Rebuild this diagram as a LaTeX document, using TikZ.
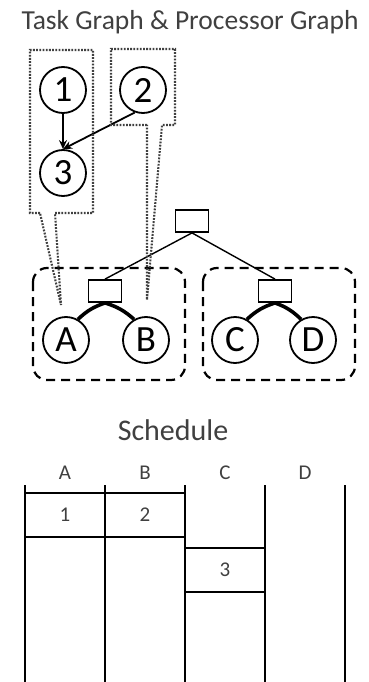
\documentclass[tikz,border=0pt]{standalone}
\usepackage{fontspec}
\setmainfont{Carlito}
\usetikzlibrary{arrows.meta}

\begin{document}
\begin{tikzpicture}[x=1pt,y=-1pt,
        txt/.style={text=black!75},
        task/.style={circle,draw,line width=1.8,minimum size=46,inner sep=0,font=\fontsize{37}{37}\selectfont},
        switch/.style={draw,line width=1.8,minimum width=33,minimum height=22,inner sep=0},
        link/.style={line width=1.4},
        fan/.style={line width=3.6},
        callout/.style={black!75,line width=2.1,dash pattern=on 1.8pt off 1.4pt},
        group/.style={line width=2.2,dash pattern=on 9pt off 6pt,rounded corners=14},
        lane/.style={line width=2.6},
        slot/.style={draw,line width=2.2,minimum width=80,minimum height=44,inner sep=0,txt,font=\fontsize{21}{21}\selectfont}]
        \useasboundingbox (0,0) rectangle (369,682);
        \node[txt,font=\fontsize{27.5}{27.5}\selectfont] (title) at (190,22) {Task Graph \& Processor Graph};
        % task graph
        \node[task] (t1) at (63,90) {1};
        \node[task] (t2) at (143,90) {2};
        \node[task] (t3) at (63,173) {3};
        \draw[line width=1.8,-{Stealth[length=9,width=8]}] (t1) -- (t3);
        \draw[line width=1.8,-{Stealth[length=9,width=8]}] (t2.250) -- (t3.north);
        % processor graph
        \node[switch] (sw0) at (192,221) {};
        \node[switch] (swL) at (105,291) {};
        \node[switch] (swR) at (275,291) {};
        \node[task] (pA) at (66,340) {A};
        \node[task] (pB) at (146,340) {B};
        \node[task] (pC) at (235,340) {C};
        \node[task] (pD) at (313,340) {D};
        \draw[link] (sw0.south) -- (swL.north);
        \draw[link] (sw0.south) -- (swR.north);
        \draw[fan] (swL.south) to[bend right=12] (pA.60);
        \draw[fan] (swL.south) to[bend left=12] (pB.120);
        \draw[fan] (swR.south) to[bend right=12] (pC.60);
        \draw[fan] (swR.south) to[bend left=12] (pD.120);
        \draw[group] (33,268) rectangle (185,380);
        \draw[group] (203,268) rectangle (355,380);
        % mapping of tasks onto processors
        \draw[callout] (40,213) -- (30,213) -- (30,50) -- (93,50) -- (93,213) -- (55,213) -- (61,305) -- cycle;
        \draw[callout] (147,125) -- (111,125) -- (111,49) -- (175,49) -- (175,125) -- (162,125) -- (147,300) -- cycle;
        % schedule
        \node[txt,font=\fontsize{30}{30}\selectfont] (sched) at (173,430) {Schedule};
        \foreach \p/\x in {A/65,B/145,C/225,D/305}
            \node[txt,font=\fontsize{21}{21}\selectfont] (col\p) at (\x,473) {\p};
        \node[slot] (s1) at (65,515) {1};
        \node[slot] (s2) at (145,515) {2};
        \node[slot] (s3) at (225,570) {3};
        \foreach \x in {25,105,185,265,345}
            \draw[lane] (\x,485) -- (\x,682);
\end{tikzpicture}
\end{document}
